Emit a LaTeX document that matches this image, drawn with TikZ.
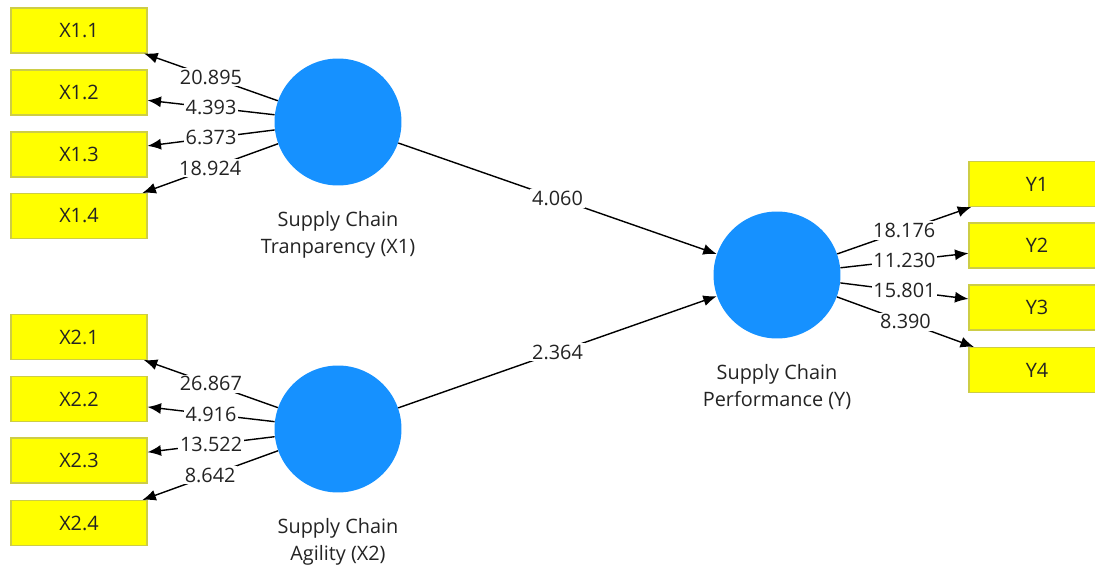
\documentclass[tikz,border=0pt]{standalone}
\usepackage{fontspec}
\setmainfont{Open Sans}
\usetikzlibrary{arrows.meta,positioning}
\definecolor{lvblue}{RGB}{22,145,255}
\definecolor{mvyellow}{RGB}{255,255,0}
\definecolor{mvborder}{RGB}{205,205,70}
\definecolor{txtdark}{RGB}{35,35,35}
\begin{document}
\begin{tikzpicture}[x=0.02cm,y=-0.02cm,
	font=\fontsize{11.3}{15.4}\selectfont,
	indicator/.style={draw=mvborder,fill=mvyellow,line width=0.6pt,minimum width=2.72cm,minimum height=0.9cm,inner sep=0pt,text=txtdark},
	latent/.style={circle,fill=lvblue,minimum size=2.54cm,inner sep=0pt},
	latentname/.style={align=center,inner sep=0pt,text=txtdark},
	loadarrow/.style={-{Latex[length=0.27cm,width=0.22cm]},line width=0.8pt},
	coef/.style={fill=white,inner sep=1pt,text=txtdark}]
	%Frame of the picture
	\useasboundingbox (0,0) rectangle (1095,567);
	\clip (0,0) rectangle (1095,567);
	%Latent variables
	\node[latent] (X1) at (338,122) {};
	\node[latent] (X2) at (338,429) {};
	\node[latent] (Y) at (777,275) {};
	\node[latentname,below=0.5cm of X1] (X1name) {Supply Chain\\Tranparency (X1)};
	\node[latentname,below=0.5cm of X2] (X2name) {Supply Chain\\Agility (X2)};
	\node[latentname,below=0.5cm of Y] (Yname) {Supply Chain\\Performance (Y)};
	%Indicators left
	\foreach \i/\y in {1/30.5,2/92.5,3/154.5,4/216} {
		\node[indicator] (X1\i) at (79,\y) {X1.\i};
	}
	\foreach \i/\y in {1/337,2/399,3/460.5,4/523} {
		\node[indicator] (X2\i) at (79,\y) {X2.\i};
	}
	%Indicators right
	\foreach \i/\y in {1/184,2/245.5,3/307.5,4/370} {
		\node[indicator] (Y\i) at (1037,\y) {Y\i};
	}
	%Outer loadings X1
	\draw[loadarrow] (X1) -- node[coef] {20.895} (X11);
	\draw[loadarrow] (X1) -- node[coef] {4.393} (X12);
	\draw[loadarrow] (X1) -- node[coef] {6.373} (X13);
	\draw[loadarrow] (X1) -- node[coef] {18.924} (X14);
	%Outer loadings X2
	\draw[loadarrow] (X2) -- node[coef] {26.867} (X21);
	\draw[loadarrow] (X2) -- node[coef] {4.916} (X22);
	\draw[loadarrow] (X2) -- node[coef] {13.522} (X23);
	\draw[loadarrow] (X2) -- node[coef] {8.642} (X24);
	%Outer loadings Y
	\draw[loadarrow] (Y) -- node[coef] {18.176} (Y1);
	\draw[loadarrow] (Y) -- node[coef] {11.230} (Y2);
	\draw[loadarrow] (Y) -- node[coef] {15.801} (Y3);
	\draw[loadarrow] (Y) -- node[coef] {8.390} (Y4);
	%Inner model
	\draw[loadarrow] (X1) -- node[coef] {4.060} (Y);
	\draw[loadarrow] (X2) -- node[coef] {2.364} (Y);
\end{tikzpicture}
\end{document}
